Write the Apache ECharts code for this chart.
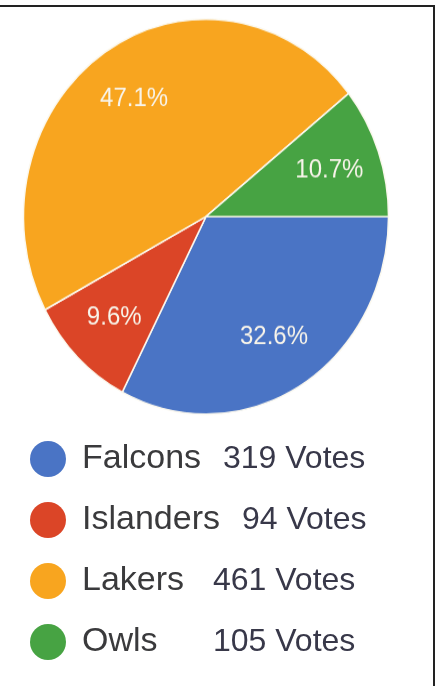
<!DOCTYPE html>
<html>
<head>
<meta charset="utf-8">
<script src="https://cdn.jsdelivr.net/npm/echarts@6/dist/echarts.min.js"></script>
<style>
  html, body { margin: 0; padding: 0; background: #ffffff; }
  #wrap { position: relative; width: 444px; height: 686px; overflow: hidden; }
  #legendChart { position: absolute; left: 0; top: 0; width: 444px; height: 686px; }
  #pieChart { position: absolute; left: 0; top: 0; width: 444px; height: 400px;
              transform-origin: 0 0; transform: scaleY(1.082); }
</style>
</head>
<body>
<div id="wrap">
  <div id="legendChart"></div>
  <div id="pieChart"></div>
</div>
<script>
// ---- data ----
const teams = ['Falcons', 'Islanders', 'Lakers', 'Owls'];
const votes = [319, 94, 461, 105];
const colors = ['#4a74c5', '#db4527', '#f8a51f', '#47a343'];

// ---- style (layout only) ----
const nameBoxWidths = [141, 160, 131, 131];
const R = 182.5;
const CX = 206;
const CY = 200.2;

const pieData = teams.map((t, i) => ({ name: t, value: votes[i], itemStyle: { color: colors[i] } }));

// Pie (drawn in an element stretched vertically to reproduce the elliptical look)
const pie = echarts.init(document.getElementById('pieChart'), null, { renderer: 'canvas' });
pie.setOption({
  animation: false,
  backgroundColor: 'transparent',
  series: [
    {
      type: 'pie',
      silent: true,
      center: [CX, CY],
      radius: [0, R],
      startAngle: 0,
      clockwise: true,
      percentPrecision: 1,
      itemStyle: { borderColor: '#fbf8ee', borderWidth: 1.5 },
      label: { show: false },
      labelLine: { show: false },
      data: pieData
    },
    {
      type: 'pie',
      silent: true,
      center: [CX, CY],
      radius: [R * 0.4, R],
      startAngle: 0,
      clockwise: true,
      percentPrecision: 1,
      itemStyle: { color: 'rgba(0,0,0,0)', borderWidth: 0 },
      label: {
        show: true,
        position: 'inside',
        formatter: '{d}%',
        color: '#f8f4ea',
        fontFamily: 'Liberation Sans, Arial, sans-serif',
        fontSize: 24,
        textBorderWidth: 0
      },
      labelLine: { show: false },
      data: teams.map((t, i) => ({ name: t, value: votes[i] }))
    }
  ]
});

// Legend + frame
const rich = {};
teams.forEach((t, i) => {
  rich['n' + i] = { width: nameBoxWidths[i], fontSize: 34, color: '#3a3a3c', fontFamily: 'Liberation Sans, Arial, sans-serif', lineHeight: 36 };
});
rich.v = { fontSize: 32, color: '#383849', fontFamily: 'Liberation Sans, Arial, sans-serif', lineHeight: 36 };

const lg = echarts.init(document.getElementById('legendChart'), null, { renderer: 'canvas' });
lg.setOption({
  animation: false,
  backgroundColor: '#ffffff',
  legend: {
    orient: 'vertical',
    left: 25,
    top: 436,
    icon: 'circle',
    itemWidth: 36,
    itemHeight: 36,
    itemGap: 25,
    selectedMode: false,
    data: teams,
    textStyle: { padding: [0, 0, 0, 11], rich: rich },
    formatter: function (name) {
      const i = teams.indexOf(name);
      return '{n' + i + '|' + name + '}{v|' + votes[i] + ' Votes}';
    }
  },
  series: [{
    type: 'pie',
    radius: [0, 0],
    center: [-100, -100],
    label: { show: false },
    labelLine: { show: false },
    silent: true,
    data: pieData
  }],
  graphic: [
    { type: 'line', shape: { x1: 0, y1: 6, x2: 435, y2: 6 }, style: { stroke: '#222222', lineWidth: 2 } },
    { type: 'line', shape: { x1: 434, y1: 5, x2: 434, y2: 686 }, style: { stroke: '#222222', lineWidth: 2 } }
  ]
});
</script>
</body>
</html>
